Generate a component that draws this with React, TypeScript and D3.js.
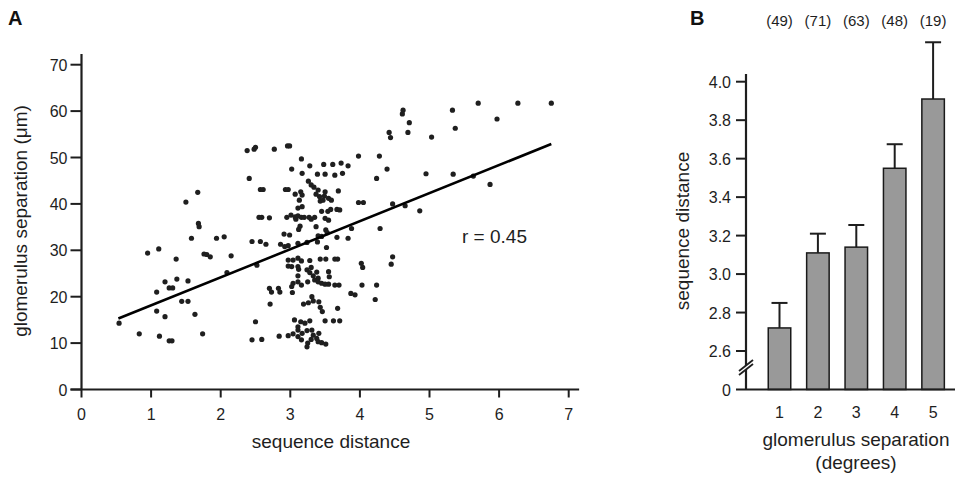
import React from "react";
import * as d3 from "d3";

// ---------- Panel A data ----------
const scatterPoints: [number, number][] = [
  [1.67, 42.5], [1.5, 40.4], [1.68, 35.8], [1.69, 35.1], [1.58, 32.6], [1.94, 32.6], [2.05, 32.9],
  [0.95, 29.4], [1.11, 30.3], [1.36, 28.1], [1.76, 29.2], [1.8, 29.1], [1.85, 28.6], [2.15, 28.8],
  [2.09, 25.2], [1.2, 23.2], [1.37, 23.8], [1.53, 23.4], [1.26, 21.9], [1.31, 21.9], [1.08, 21.0],
  [1.44, 19.0], [1.53, 19.0], [1.08, 16.9], [1.2, 15.7], [1.63, 16.2], [0.54, 14.3], [0.83, 12.0],
  [1.12, 11.5], [1.26, 10.5], [1.3, 10.5], [1.74, 12.0],
  [2.38, 51.5], [2.48, 51.8], [2.5, 52.2], [2.77, 51.8], [2.96, 52.5], [2.99, 52.5], [3.02, 47.5],
  [2.41, 45.5], [2.57, 43.1], [2.61, 43.1], [2.93, 43.1], [2.97, 43.1], [3.07, 42.1], [2.55, 37.1],
  [2.59, 37.1], [2.7, 37.0], [2.95, 37.1], [3.01, 37.6], [3.07, 37.2], [3.08, 36.7], [2.91, 33.5],
  [2.99, 33.3], [2.45, 31.9], [2.57, 31.9], [2.65, 31.3], [2.86, 31.3], [2.92, 30.8], [2.97, 31.0],
  [2.52, 26.8], [2.97, 27.9], [3.04, 27.9], [2.97, 26.6], [3.02, 26.5], [3.11, 24.5], [3.04, 22.9],
  [3.02, 22.2], [2.7, 21.8], [2.73, 21.0], [2.83, 21.8], [2.85, 21.0], [3.03, 20.9], [2.71, 18.4],
  [2.5, 14.6], [3.06, 15.0], [2.45, 10.7], [2.59, 10.8], [2.84, 11.5], [2.97, 11.6], [3.04, 12.0],
  [3.16, 49.7], [3.28, 48.2], [3.48, 48.5], [3.61, 48.5], [3.73, 48.8], [3.83, 48.2], [3.98, 50.3],
  [3.17, 46.6], [3.39, 46.4], [3.5, 46.4], [3.64, 46.2], [3.75, 46.6], [3.26, 44.9], [3.3, 44.1],
  [3.15, 42.6], [3.17, 41.9], [3.34, 43.6], [3.4, 43.0], [3.37, 42.1], [3.42, 41.6], [3.5, 42.6],
  [3.49, 41.7], [3.69, 42.8], [3.13, 40.8], [3.17, 39.4], [3.43, 40.6], [3.47, 40.8], [3.55, 41.2],
  [3.59, 40.8], [3.98, 40.3], [4.05, 40.3], [3.11, 39.1], [3.16, 37.1], [3.2, 37.1], [3.27, 37.1],
  [3.3, 36.7], [3.35, 37.1], [3.45, 38.4], [3.54, 38.4], [3.58, 38.8], [3.67, 38.8], [3.71, 38.7],
  [3.5, 36.9], [3.55, 36.5], [3.11, 37.4], [3.14, 35.2], [3.12, 34.5], [3.37, 35.1], [3.51, 34.4],
  [3.53, 33.8], [3.88, 34.7], [3.4, 33.1], [3.45, 33.0], [3.67, 32.8], [3.83, 32.6], [3.11, 31.5],
  [3.24, 31.7], [3.39, 31.8], [3.52, 30.6], [3.11, 28.3], [3.16, 27.7], [3.28, 27.8], [3.43, 28.1],
  [3.51, 28.1], [3.64, 28.1], [3.68, 28.1], [3.11, 26.5], [3.12, 25.9], [3.24, 25.8], [3.3, 26.3],
  [3.28, 25.2], [3.33, 24.5], [3.38, 25.3], [3.4, 24.0], [3.35, 23.6], [3.4, 23.2], [3.45, 22.9],
  [3.55, 25.4], [3.56, 24.3], [3.5, 22.7], [3.55, 22.7], [3.64, 22.5], [3.7, 22.5], [4.02, 27.2],
  [4.04, 26.3], [3.87, 20.7], [3.93, 20.4], [3.11, 23.2], [3.16, 22.5], [3.25, 23.2], [3.31, 20.0],
  [3.33, 19.1], [3.26, 18.7], [3.19, 18.4], [3.41, 18.9], [3.43, 17.7], [3.46, 16.8], [3.68, 17.5],
  [3.15, 14.6], [3.21, 14.3], [3.28, 14.8], [3.11, 13.5], [3.5, 14.8], [3.62, 14.8], [3.71, 14.8],
  [3.11, 12.8], [3.17, 12.1], [3.24, 12.7], [3.31, 12.8], [3.33, 11.7], [3.38, 11.0], [3.41, 12.1],
  [3.16, 10.7], [3.25, 10.0], [3.3, 10.8], [3.4, 10.3], [3.45, 10.1], [3.51, 9.8], [3.11, 11.4],
  [3.24, 9.2],
  [4.62, 60.2], [4.61, 59.4], [4.71, 57.5], [4.42, 55.4], [4.44, 54.3], [4.69, 55.4], [5.03, 54.4],
  [5.33, 60.2], [5.7, 61.7], [5.37, 56.3], [5.97, 58.3], [6.27, 61.7], [6.75, 61.7], [4.28, 50.3],
  [4.39, 47.5], [4.24, 45.5], [4.95, 46.5], [5.34, 46.4], [5.63, 46.0], [5.87, 44.2], [4.47, 40.0],
  [4.65, 39.6], [4.86, 38.5], [4.29, 34.7], [4.47, 28.6], [4.45, 27.0], [4.24, 22.5], [4.03, 22.5],
  [4.22, 19.4],
];
const fitLine: [number, number][] = [[0.53, 15.3], [6.75, 52.9]];
const xTicksA = [0, 1, 2, 3, 4, 5, 6, 7];
const yTicksA = [0, 10, 20, 30, 40, 50, 60, 70];
const rLabel = "r = 0.45";

// ---------- Panel B data ----------
const categoriesB = [1, 2, 3, 4, 5];
const meansB = [2.72, 3.11, 3.14, 3.55, 3.91];
const semB = [0.13, 0.1, 0.115, 0.125, 0.295];
const countsB = [49, 71, 63, 48, 19];
const yTicksB = [2.6, 2.8, 3.0, 3.2, 3.4, 3.6, 3.8, 4.0];

const FONT = "'Liberation Sans', Arial, Helvetica, sans-serif";
const INK = "#1e1e1e";

export default function App() {
  // Panel A scales
  const xA = d3.scaleLinear().domain([0, 7]).range([81.5, 568.7]);
  const yA = d3.scaleLinear().domain([0, 70]).range([389.5, 64.7]);
  const lineGen = d3.line<[number, number]>().x((d) => xA(d[0])).y((d) => yA(d[1]));

  // Panel B scales
  const xB = d3.scaleBand<number>().domain(categoriesB).range([760.3, 952.3]).paddingInner(0.414).paddingOuter(0.207);
  const yB = d3.scaleLinear().domain([2.4, 4.0]).range([389.5, 81.7]);
  const axisBx = 746;
  const bw = xB.bandwidth();
  const breakY = 366;

  return (
    <svg
      width={955}
      height={478}
      style={{ position: "absolute", left: 0, top: 0, background: "#fff" }}
      fontFamily={FONT}
    >
      <rect x={0} y={0} width={955} height={478} fill="#fff" />
      {/* Panel labels */}
      <text x={8} y={25} fontSize={20} fontWeight="bold" fill="#111">A</text>
      <text x={690} y={25} fontSize={20} fontWeight="bold" fill="#111">B</text>

      {/* ---------- Panel A ---------- */}
      <g>
        {scatterPoints.map((p, i) => (
          <circle key={i} cx={xA(p[0])} cy={yA(p[1])} r={2.6} fill="#1f1f1f" />
        ))}
        <path d={lineGen(fitLine) || ""} stroke="#000" strokeWidth={2.6} fill="none" />
        <text x={462} y={243} fontSize={19} fill={INK}>{rLabel}</text>

        {/* axes */}
        <line x1={xA(0)} y1={yA(72.3)} x2={xA(0)} y2={yA(0)} stroke={INK} strokeWidth={2.2} />
        <line x1={xA(0) - 11} y1={yA(0)} x2={xA(7.15)} y2={yA(0)} stroke={INK} strokeWidth={2.2} />
        {yTicksA.map((t) => (
          <g key={t}>
            <line x1={xA(0) - 11} x2={xA(0)} y1={yA(t)} y2={yA(t)} stroke={INK} strokeWidth={2} />
            <text x={xA(0) - 14} y={yA(t) + 6} fontSize={16} textAnchor="end" fill={INK}>{t}</text>
          </g>
        ))}
        {xTicksA.map((t) => (
          <g key={t}>
            <line x1={xA(t)} x2={xA(t)} y1={yA(0)} y2={yA(0) + 8} stroke={INK} strokeWidth={2} />
            <text x={xA(t)} y={419.5} fontSize={16} textAnchor="middle" fill={INK}>{t}</text>
          </g>
        ))}
        <text x={331} y={448} fontSize={19} textAnchor="middle" fill={INK}>sequence distance</text>
        <text
          transform={`translate(27,221) rotate(-90)`}
          fontSize={19}
          textAnchor="middle"
          fill={INK}
        >
          glomerulus separation (μm)
        </text>
      </g>

      {/* ---------- Panel B ---------- */}
      <g>
        {categoriesB.map((c, i) => {
          const x0 = xB(c) as number;
          const cx = x0 + bw / 2;
          return (
            <g key={c}>
              <line x1={cx} x2={cx} y1={yB(meansB[i])} y2={yB(meansB[i] + semB[i])} stroke={INK} strokeWidth={2} />
              <line x1={cx - 8} x2={cx + 8} y1={yB(meansB[i] + semB[i])} y2={yB(meansB[i] + semB[i])} stroke={INK} strokeWidth={2} />
              <rect
                x={x0}
                y={yB(meansB[i])}
                width={bw}
                height={yB(2.4) - yB(meansB[i])}
                fill="#999999"
                stroke="#1a1a1a"
                strokeWidth={1.5}
              />
              <text x={cx} y={26} fontSize={15} textAnchor="middle" fill={INK}>({countsB[i]})</text>
              <text x={cx} y={418} fontSize={16} textAnchor="middle" fill={INK}>{c}</text>
            </g>
          );
        })}
        {/* axes */}
        <line x1={axisBx} x2={axisBx} y1={74} y2={yB(2.4)} stroke={INK} strokeWidth={2.2} />
        <line x1={axisBx - 10} x2={955} y1={yB(2.4)} y2={yB(2.4)} stroke={INK} strokeWidth={2.2} />
        {yTicksB.map((t) => (
          <g key={t}>
            <line x1={axisBx - 10} x2={axisBx} y1={yB(t)} y2={yB(t)} stroke={INK} strokeWidth={2} />
            <text x={axisBx - 15} y={yB(t) + 6} fontSize={16} textAnchor="end" fill={INK}>{t.toFixed(1)}</text>
          </g>
        ))}
        <text x={axisBx - 15} y={yB(2.4) + 6} fontSize={16} textAnchor="end" fill={INK}>0</text>
        {/* axis break */}
        <polygon
          points={`${axisBx - 7},${breakY + 5} ${axisBx + 7},${breakY - 6} ${axisBx + 7},${breakY - 2} ${axisBx - 7},${breakY + 9}`}
          fill="#fff"
        />
        <line x1={axisBx - 7} y1={breakY + 5} x2={axisBx + 7} y2={breakY - 6} stroke={INK} strokeWidth={1.8} />
        <line x1={axisBx - 7} y1={breakY + 9} x2={axisBx + 7} y2={breakY - 2} stroke={INK} strokeWidth={1.8} />

        <text x={856} y={446} fontSize={19} textAnchor="middle" fill={INK}>glomerulus separation</text>
        <text x={856} y={469} fontSize={19} textAnchor="middle" fill={INK}>(degrees)</text>
        <text transform={`translate(689,231) rotate(-90)`} fontSize={19} textAnchor="middle" fill={INK}>
          sequence distance
        </text>
      </g>
    </svg>
  );
}
